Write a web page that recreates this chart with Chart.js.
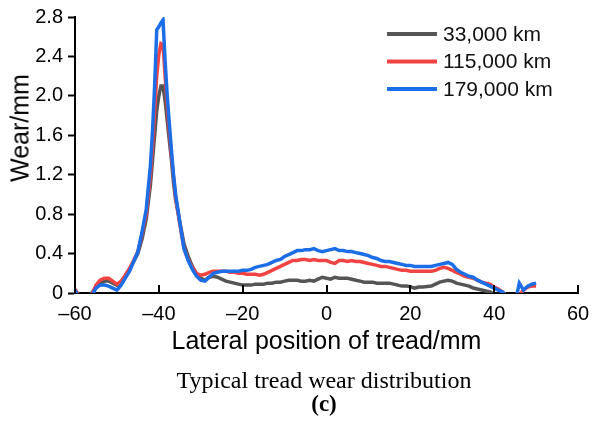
<!DOCTYPE html>
<html>
<head>
<meta charset="utf-8">
<script src="https://cdn.jsdelivr.net/npm/chart.js@4.4.1/dist/chart.umd.min.js"></script>
<style>
  body { margin: 0; background: #fff; }
  #wrap { position: relative; width: 602px; height: 425px; }
  #wearChart { position: absolute; left: 0; top: 0; }
  .ylab { position: absolute; left: 20px; top: 128px; transform: translate(-50%, -50%) rotate(-90deg);
          font: 25px "Liberation Sans", Arial, sans-serif; white-space: nowrap; color: #000; }
  .cap { position: absolute; left: 0; width: 648px; text-align: center; color: #000;
         font-family: "Liberation Serif", "Times New Roman", serif; }
</style>
</head>
<body>
<div id="wrap">
  <canvas id="wearChart" width="602" height="425"></canvas>
  <div class="ylab">Wear/mm</div>
  <div class="cap" style="top:367px;font-size:24px;line-height:27px;">Typical tread wear distribution</div>
  <div class="cap" style="top:391px;font-size:23px;line-height:25px;font-weight:bold;">(c)</div>
</div>
<script>
// lateral position (mm)
const positions = [
  -60, -59, -58, -57, -56, -55, -54, -53, -52, -51,
  -50, -49, -48, -47, -46, -45, -44, -43, -42,
  -41.5, -41, -40.5, -40, -39.5, -39, -38.5, -38, -37.5, -37, -36.5, -36,
  -35, -34, -33, -32, -31, -30, -29, -28, -27, -26,
  -25, -24, -23, -22, -21, -20, -19, -18, -17, -16,
  -15, -14, -13, -12, -11, -10, -9, -8, -7, -6,
  -5, -4, -3, -2, -1, 0, 1, 2, 3, 4,
  5, 6, 7, 8, 9, 10, 11, 12, 13, 14,
  15, 16, 17, 18, 19, 20, 21, 22, 23, 24,
  25, 26, 27, 28, 29, 30, 31, 32, 33, 34,
  35, 36, 37, 38, 39, 40, 41, 42, 43, 44,
  45, 46, 47, 48, 49, 50
];

// wear (mm) after each mileage
const wear33k = [
  0.0, -0.06, -0.1, -0.08, 0.0, 0.06, 0.1, 0.12, 0.125, 0.1,
  0.08, 0.11, 0.17, 0.24, 0.32, 0.4, 0.55, 0.75, 1.1,
  1.35, 1.6, 1.85, 2.0, 2.1, 2.1, 1.95, 1.75, 1.55, 1.35, 1.12, 0.95,
  0.72, 0.5, 0.37, 0.27, 0.19, 0.15, 0.13, 0.16, 0.17, 0.16,
  0.14, 0.12, 0.11, 0.1, 0.09, 0.08, 0.08, 0.08, 0.09, 0.09,
  0.09, 0.1, 0.1, 0.11, 0.11, 0.12, 0.13, 0.13, 0.13, 0.12,
  0.12, 0.13, 0.12, 0.14, 0.16, 0.15, 0.14, 0.16, 0.15, 0.15,
  0.15, 0.14, 0.13, 0.12, 0.11, 0.11, 0.11, 0.1, 0.1, 0.1,
  0.1, 0.09, 0.08, 0.07, 0.07, 0.065, 0.05, 0.06, 0.06, 0.065,
  0.07, 0.09, 0.11, 0.12, 0.13, 0.12, 0.1, 0.09, 0.08, 0.07,
  0.05, 0.04, 0.03, 0.02, 0.01, -0.01, -0.04, -0.06, -0.08, null,
  null, null, null, null, null, null
];

const wear115k = [
  0.04, -0.03, -0.08, -0.06, -0.02, 0.08, 0.13, 0.15, 0.15, 0.12,
  0.09, 0.12, 0.18, 0.25, 0.33, 0.42, 0.6, 0.8, 1.2,
  1.5, 1.85, 2.2, 2.42, 2.53, 2.52, 2.2, 1.9, 1.65, 1.4, 1.18, 0.98,
  0.7, 0.45, 0.34, 0.26, 0.2, 0.18, 0.19, 0.21, 0.22, 0.22,
  0.22, 0.22, 0.21, 0.21, 0.2, 0.2, 0.19, 0.19, 0.19, 0.18,
  0.19, 0.21, 0.23, 0.25, 0.27, 0.29, 0.31, 0.33, 0.33, 0.34,
  0.34, 0.33, 0.34, 0.33, 0.33, 0.33, 0.31, 0.3, 0.33, 0.33,
  0.32, 0.33, 0.32, 0.32, 0.31, 0.3, 0.29, 0.28, 0.27, 0.27,
  0.26, 0.25, 0.24, 0.23, 0.23, 0.22, 0.22, 0.22, 0.22, 0.22,
  0.22, 0.23, 0.25, 0.26, 0.25, 0.23, 0.21, 0.19, 0.17, 0.16,
  0.15, 0.13, 0.11, 0.1, 0.09, 0.06, 0.04, 0.01, -0.03, -0.08,
  -0.08, -0.02, 0.03, 0.06, 0.07, 0.07
];

const wear179k = [
  0.03, -0.05, -0.1, -0.08, -0.03, 0.05, 0.08, 0.08, 0.07, 0.05,
  0.03, 0.08, 0.15, 0.22, 0.32, 0.42, 0.62, 0.85, 1.3,
  1.65, 2.1, 2.67, 2.7, 2.74, 2.77, 2.35, 2.0, 1.72, 1.45, 1.2, 1.0,
  0.72, 0.45, 0.33, 0.24, 0.17, 0.13, 0.12, 0.16, 0.2, 0.21,
  0.22, 0.22, 0.22, 0.22, 0.22, 0.23, 0.23, 0.24, 0.26, 0.27,
  0.28, 0.29, 0.31, 0.33, 0.34, 0.37, 0.39, 0.41, 0.43, 0.43,
  0.44, 0.44, 0.45, 0.43, 0.42, 0.43, 0.44, 0.45, 0.43, 0.43,
  0.42, 0.42, 0.41, 0.4, 0.39, 0.38, 0.36, 0.35, 0.33, 0.32,
  0.32, 0.31, 0.3, 0.29, 0.28, 0.28, 0.27, 0.27, 0.27, 0.27,
  0.27, 0.28, 0.29, 0.3, 0.31, 0.29, 0.24, 0.21, 0.19, 0.17,
  0.16, 0.13, 0.11, 0.09, 0.07, 0.05, 0.03, 0.01, -0.03, -0.12,
  -0.1, 0.1, 0.03, 0.07, 0.09, 0.1
];

const seriesNames = ['33,000 km', '115,000 km', '179,000 km'];
const seriesColors = ['#555555', '#f04343', '#1c6ee6'];
const FONT = '"Liberation Sans", Arial, sans-serif';

function pts(vals) {
  return positions.map((x, i) => ({ x: x, y: vals[i] }));
}

// x ticks point up into the plot
const innerTicks = {
  id: 'innerTicks',
  afterDatasetsDraw(chart) {
    const { ctx, chartArea } = chart;
    const x = chart.scales.x;
    ctx.save();
    ctx.strokeStyle = '#000';
    ctx.lineWidth = 2;
    x.ticks.forEach(t => {
      const px = Math.round(x.getPixelForValue(t.value));
      ctx.beginPath();
      ctx.moveTo(px, chartArea.bottom);
      ctx.lineTo(px, chartArea.bottom - 8);
      ctx.stroke();
    });
    ctx.restore();
  }
};

const sideLegend = {
  id: 'sideLegend',
  afterDraw(chart) {
    const ctx = chart.ctx;
    ctx.save();
    ctx.font = '21px ' + FONT;
    ctx.textBaseline = 'middle';
    chart.data.datasets.forEach((ds, i) => {
      const y = 34 + i * 27.5;
      ctx.strokeStyle = ds.borderColor;
      ctx.lineWidth = 4;
      ctx.beginPath();
      ctx.moveTo(387, y);
      ctx.lineTo(437, y);
      ctx.stroke();
      ctx.fillStyle = '#111';
      ctx.fillText(ds.label, 443, y + 1);
    });
    ctx.restore();
  }
};

const allSeries = [wear33k, wear115k, wear179k];
const datasets = allSeries.map((vals, i) => ({
  label: seriesNames[i],
  data: pts(vals),
  borderColor: seriesColors[i],
  borderWidth: 3.5,
  pointRadius: 0,
  tension: 0,
  fill: false,
  order: 2 - i
}));

new Chart(document.getElementById('wearChart'), {
  type: 'line',
  data: { datasets: datasets },
  plugins: [innerTicks, sideLegend],
  options: {
    responsive: false,
    animation: false,
    devicePixelRatio: 1,
    layout: { padding: { left: 0, right: 24, top: 17, bottom: 62 } },
    plugins: { legend: { display: false }, tooltip: { enabled: false } },
    scales: {
      x: {
        type: 'linear', min: -60, max: 60,
        afterFit: s => { s.height = 70; },
        ticks: {
          stepSize: 20, maxRotation: 0, padding: 9, color: '#000',
          font: { family: FONT, size: 20 },
          callback: v => v < 0 ? '\u2013' + Math.abs(v) : String(v)
        },
        grid: { drawOnChartArea: false, drawTicks: false },
        border: { color: '#000', width: 2 },
        title: {
          display: true, text: 'Lateral position of tread/mm', color: '#000',
          font: { family: FONT, size: 25, lineHeight: 1.2 },
          padding: { top: 0, bottom: 6 }
        }
      },
      y: {
        min: 0, max: 2.8,
        afterFit: s => { s.width = 75; },
        ticks: {
          stepSize: 0.4, padding: 5, color: '#000',
          font: { family: FONT, size: 20 },
          callback: v => Math.abs(v) < 1e-9 ? '0' : v.toFixed(1)
        },
        grid: { drawOnChartArea: false, tickLength: 7, tickWidth: 2, tickColor: '#000' },
        border: { color: '#000', width: 2 }
      }
    }
  }
});
</script>
</body>
</html>
